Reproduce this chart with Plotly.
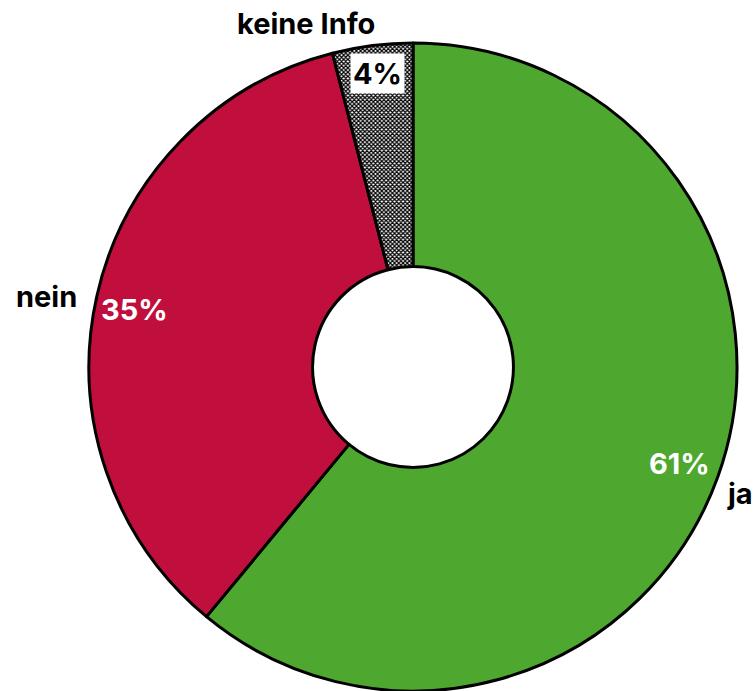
import math
import plotly.graph_objects as go

labels = ["ja", "nein", "keine Info"]
values = [61, 35, 4]
pct_text = ["61%", "35%", "4%"]

colors = ["#4EA72E", "#C00F3C", "#FFFFFF"]
patterns = ["", "", "x"]
pct_font_colors = ["white", "white", "black"]
pct_bg = ["rgba(0,0,0,0)", "rgba(0,0,0,0)", "white"]
pct_rfac = [0.875, 0.875, 0.905]
pct_dx = [0, -2, 1]
pct_dy = [0, 4, -3]
lab_rfac = [1.03, 1.07, 1.07]
lab_dx = [-2, 4, 7]
lab_dy = [-6, 5, 0]
lab_xanchor = ["left", "right", "right"]
lab_yanchor = ["top", "middle", "middle"]

W, H = 754, 691
cx, cy, R = 413, 367, 324
FONT = "Inter, Noto Sans, sans-serif"
FS = 29

fig = go.Figure()
fig.add_trace(go.Pie(
    labels=labels, values=values, sort=False, direction="clockwise", rotation=0,
    hole=0.31, textinfo="none", hoverinfo="label+percent",
    marker=dict(colors=colors, line=dict(color="black", width=3),
                pattern=dict(shape=patterns, fgcolor="black", bgcolor="white",
                             size=3, solidity=0.65)),
    domain=dict(x=[(cx - R) / W, (cx + R) / W], y=[(H - cy - R) / H, (H - cy + R) / H]),
    showlegend=False,
))

total = sum(values)
cum = 0
annos = []
for i, v in enumerate(values):
    mid = (cum + v / 2) / total * 2 * math.pi
    cum += v
    s, c = math.sin(mid), math.cos(mid)
    r = R * pct_rfac[i]
    px, py = cx + r * s + pct_dx[i], cy - r * c + pct_dy[i]
    annos.append(dict(x=px / W, y=1 - py / H, xref="paper", yref="paper",
                      text="<b>%s</b>" % pct_text[i], showarrow=False,
                      font=dict(family=FONT, size=FS, color=pct_font_colors[i]),
                      bgcolor=pct_bg[i], borderpad=2, xanchor="center", yanchor="middle"))
    r = R * lab_rfac[i]
    lx, ly = cx + r * s + lab_dx[i], cy - r * c + lab_dy[i]
    annos.append(dict(x=lx / W, y=1 - ly / H, xref="paper", yref="paper",
                      text="<b>%s</b>" % labels[i], showarrow=False,
                      font=dict(family=FONT, size=FS, color="black"),
                      xanchor=lab_xanchor[i], yanchor=lab_yanchor[i]))

fig.update_layout(width=W, height=H, margin=dict(l=0, r=0, t=0, b=0),
                  paper_bgcolor="white", plot_bgcolor="white", annotations=annos)
fig.write_html("out.html", config={"displayModeBar": False},
               post_script="document.body.style.margin='0px';")
